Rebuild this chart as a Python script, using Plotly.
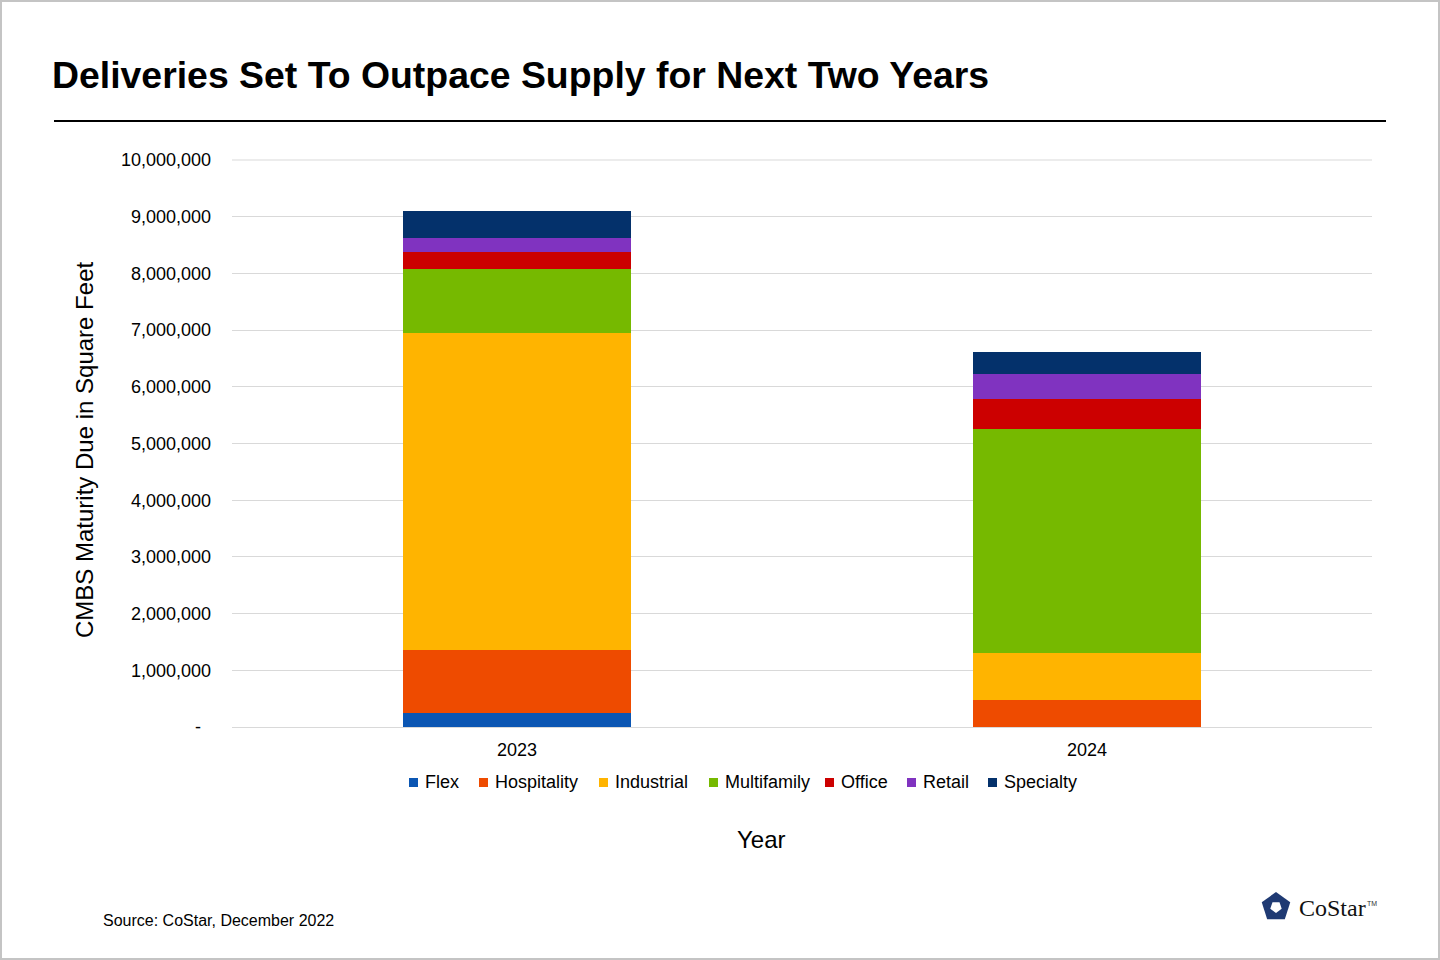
"""CMBS maturity deliveries by property type, stacked bars."""

import math

import plotly.graph_objects as go

FONT = "Arial, 'Liberation Sans', sans-serif"
SERIF = "'Liberation Serif', 'DejaVu Serif', serif"

W, H = 1440, 960
PLOT_L, PLOT_R, PLOT_T, PLOT_B = 232, 1372, 160, 727

years = ["2023", "2024"]
property_types = ["Flex", "Hospitality", "Industrial", "Multifamily", "Office", "Retail", "Specialty"]

flex = [240_000, 0]
hospitality = [1_120_000, 480_000]
industrial = [5_590_000, 830_000]
multifamily = [1_130_000, 3_950_000]
office = [300_000, 530_000]
retail = [240_000, 440_000]
specialty = [480_000, 390_000]

series = [flex, hospitality, industrial, multifamily, office, retail, specialty]
colors = ["#0B56B3", "#EE4B00", "#FFB400", "#76B900", "#CC0000", "#8033C0", "#04316B"]

Y_MAX = 10_000_000
tick_vals = list(range(0, Y_MAX + 1, 1_000_000))
tick_text = ["-&nbsp;&nbsp;"] + [f"{v:,}" for v in tick_vals[1:]]

# legend text left edges (px), drawn by hand to get the tight Excel spacing
LEGEND_X = [423, 493, 613, 723, 839, 921, 1002]
LEGEND_Y = 782


def px_x(x):
    return (x - PLOT_L) / (PLOT_R - PLOT_L)


def px_y(y):
    return (PLOT_B - y) / (PLOT_B - PLOT_T)


fig = go.Figure()
for name, vals, col in zip(property_types, series, colors):
    fig.add_trace(go.Bar(name=name, x=years, y=vals, marker=dict(color=col, line=dict(width=0))))

fig.update_layout(
    width=W,
    height=H,
    barmode="stack",
    bargap=0.6,
    paper_bgcolor="white",
    plot_bgcolor="white",
    font=dict(family=FONT, color="#000000", size=18),
    margin=dict(l=PLOT_L, r=W - PLOT_R, t=PLOT_T, b=H - PLOT_B, autoexpand=False),
    title=dict(
        text="<b>Deliveries Set To Outpace Supply for Next Two Years</b>",
        x=52 / W,
        xanchor="left",
        y=1 - 75 / H,
        yanchor="middle",
        font=dict(size=37.4, family=FONT, color="#000000"),
    ),
    showlegend=False,
)

fig.update_yaxes(
    range=[0, Y_MAX],
    tickvals=tick_vals,
    ticktext=tick_text,
    showgrid=True,
    gridcolor="#D9D9D9",
    gridwidth=1,
    zeroline=False,
    showline=False,
    ticks="",
    ticklabelstandoff=20,
    tickfont=dict(size=18),
)
fig.update_xaxes(
    showline=True,
    linecolor="#D9D9D9",
    linewidth=1,
    ticks="",
    tickfont=dict(size=18),
    ticklabelstandoff=6,
)

# top gridline sits on the plot edge, plotly skips it
fig.add_shape(type="line", xref="paper", yref="paper", x0=0, x1=1, y0=1, y1=1,
              line=dict(color="#D9D9D9", width=1), layer="below")

annotations = [
    dict(text="CMBS Maturity Due in Square Feet", x=px_x(84), y=px_y(450), textangle=-90,
         font=dict(size=24)),
    dict(text="Year", x=px_x(761), y=px_y(839), font=dict(size=24)),
    dict(text="Source: CoStar, December 2022", x=px_x(101), y=px_y(920), xanchor="left",
         font=dict(size=16)),
    dict(text="CoStar", x=px_x(1297), y=px_y(908), xanchor="left",
         font=dict(size=24, family=SERIF, color="#111111")),
    dict(text="TM", x=px_x(1365), y=px_y(903), xanchor="left",
         font=dict(size=7, family=FONT, color="#333333")),
]
for name, tx in zip(property_types, LEGEND_X):
    annotations.append(dict(text=name, x=px_x(tx), y=px_y(LEGEND_Y), xanchor="left",
                            font=dict(size=18)))
for a in annotations:
    a.setdefault("xanchor", "center")
    fig.add_annotation(xref="paper", yref="paper", yanchor="middle", showarrow=False, **a)

# legend squares
for col, tx in zip(colors, LEGEND_X):
    fig.add_shape(type="rect", xref="paper", yref="paper",
                  x0=px_x(tx - 14), x1=px_x(tx - 5),
                  y0=px_y(LEGEND_Y + 5), y1=px_y(LEGEND_Y - 4),
                  fillcolor=col, line=dict(width=0))

# rule under the title
fig.add_shape(type="line", xref="paper", yref="paper",
              x0=px_x(54), x1=px_x(1386), y0=px_y(121), y1=px_y(121),
              line=dict(color="#000000", width=2))
# outer frame
fig.add_shape(type="rect", xref="paper", yref="paper",
              x0=px_x(1), x1=px_x(W - 1), y0=px_y(1), y1=px_y(H - 1),
              line=dict(color="#C4C4C4", width=2))

# simple logo mark: navy pentagon ring
cx, cy, r_out, r_in = 1276, 907, 15, 6
outer = [(cx + r_out * math.sin(math.radians(72 * k)), cy - r_out * math.cos(math.radians(72 * k))) for k in range(5)]
inner = [(cx + r_in * math.sin(math.radians(72 * k + 36)), cy - r_in * math.cos(math.radians(72 * k + 36))) for k in range(5)]


def path(pts):
    return "M " + " L ".join(f"{px_x(x):.5f},{px_y(y):.5f}" for x, y in pts) + " Z"


fig.add_shape(type="path", xref="paper", yref="paper", path=path(outer),
              fillcolor="#1F3A73", line=dict(width=0))
fig.add_shape(type="path", xref="paper", yref="paper", path=path(inner),
              fillcolor="white", line=dict(width=0))

fig.write_html("out.html", config={"displayModeBar": False},
               post_script="document.body.style.margin='0';")
